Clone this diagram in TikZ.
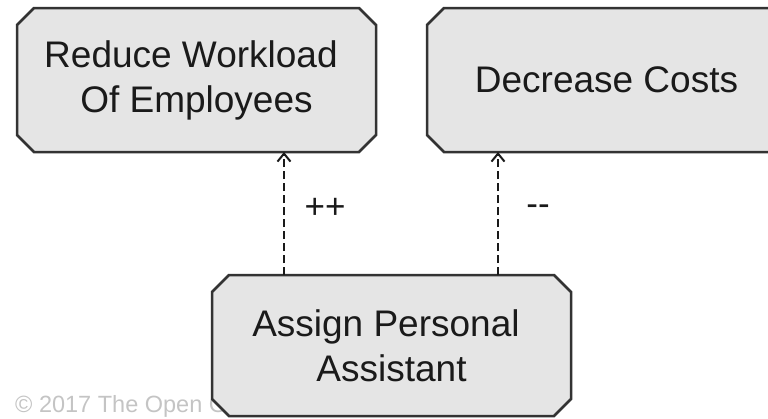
\documentclass[tikz,border=0pt]{standalone}
\usepackage{fontspec}
\setmainfont{Liberation Sans}
\usetikzlibrary{calc,arrows.meta}
\pgfdeclarelayer{bottom}
\pgfdeclarelayer{background}
\pgfsetlayers{bottom,background,main}
\definecolor{boxfill}{HTML}{E5E5E5}
\definecolor{boxline}{HTML}{333333}
\definecolor{txt}{HTML}{1A1A1A}
\definecolor{copy}{HTML}{C4C4C4}
\tikzset{
  goalbox/.style={rectangle, minimum width=359pt, minimum height=144pt,
    inner sep=0pt, outer sep=0pt, text=txt, align=center, font=\fontsize{37}{45}\selectfont},
  chamferline/.style={draw=boxline, fill=boxfill, line width=2.5pt, line join=miter},
  influence/.style={draw=txt, line width=2.4pt, dash pattern=on 8pt off 4pt,
    -{Straight Barb[length=8pt,width=13pt,line width=2pt]}},
  inflabel/.style={text=txt, font=\fontsize{35}{40}\selectfont, inner sep=0pt}
}
\newcommand{\chamferbox}[2]{%
  \draw[chamferline] ($(#1.north west)+(#2,0)$) -- ($(#1.north east)+(-#2,0)$)
    -- ($(#1.north east)+(0,#2)$) -- ($(#1.south east)+(0,-#2)$)
    -- ($(#1.south east)+(-#2,0)$) -- ($(#1.south west)+(#2,0)$)
    -- ($(#1.south west)+(0,-#2)$) -- ($(#1.north west)+(0,#2)$) -- cycle;}
\begin{document}
\begin{tikzpicture}[x=1pt,y=-1pt]
\useasboundingbox (0,0) rectangle (768,418);
\clip (0,0) rectangle (768,418);
\begin{pgfonlayer}{bottom}
\node[anchor=west, text=copy, font=\fontsize{23.5}{26}\selectfont, inner sep=0pt] (copyright) at (15,406) {© 2017 The Open Group};
\end{pgfonlayer}
\node[goalbox] (reduce) at (196.5,80) {Reduce Workload\hspace*{0.3em}\\Of Employees};
\node[goalbox] (costs) at (606.5,80) {Decrease Costs};
\node[goalbox, minimum height=141pt] (assign) at (391.5,345.5) {Assign Personal\hspace*{0.3em}\\Assistant};
\begin{pgfonlayer}{background}
\chamferbox{reduce}{17}
\chamferbox{costs}{17}
\chamferbox{assign}{17}
\end{pgfonlayer}
\path (assign.north west) ++(72,0) coordinate (s1);
\path (assign.north west) ++(286,0) coordinate (s2);
\draw[influence] (s1) -- (s1 |- reduce.south);
\draw[influence] (s2) -- (s2 |- costs.south);
\node[inflabel] (pp) at (325,208) {++};
\node[inflabel] (mm) at (538,210) {-{}-};
\end{tikzpicture}
\end{document}
